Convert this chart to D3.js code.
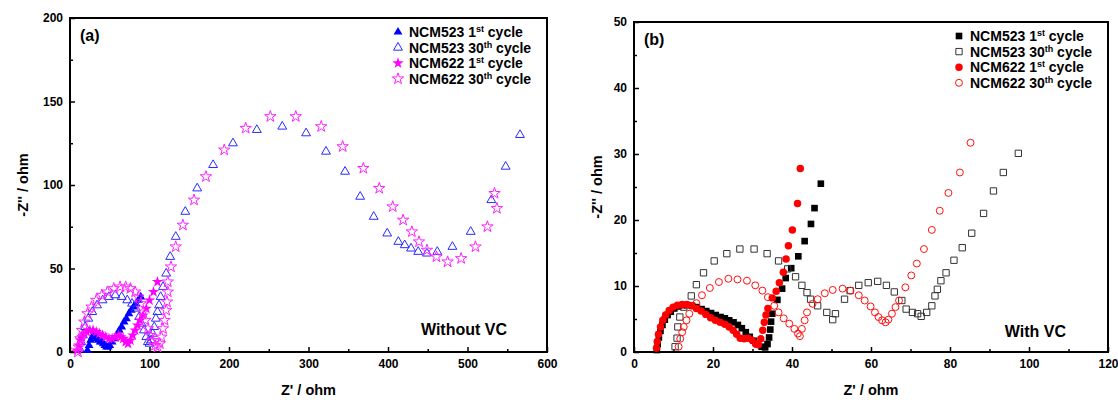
<!DOCTYPE html>
<html>
<head>
<meta charset="utf-8">
<script src="https://cdn.jsdelivr.net/npm/d3@7"></script>
<style>
  body { margin: 0; background: #fff; }
  svg { display: block; font-family: 'Liberation Sans', Arial, sans-serif; font-weight: bold; }
</style>
</head>
<body>
<script>
// ---- panel (a): without VC, Z' vs -Z'' (ohm) ----
const aXTicks = [0, 100, 200, 300, 400, 500, 600];
const aXMinor = [50, 150, 250, 350, 450, 550];
const aYTicks = [0, 50, 100, 150, 200];
const aYMinor = [25, 75, 125, 175];

const a523first = [[22,1],[24,4],[26,7],[28,9],[30,10],[32,9],[34,8],[36,7],[38,6],[40,6],[42,5],[44,4],[46,3],[48,3],[50,4],[53,6],[56,8],[59,10],[62,13],[65,15],[68,18],[71,20],[74,23],[77,25],[80,27],[83,29],[86,31],[89,33]];
const a523thirtieth = [[12,2],[14,6],[16,10],[19,15],[23,20],[28,24],[34,28],[41,31],[49,33],[57,34],[65,33],[72,31],[78,29],[83,26],[87,21],[90,17],[93,13],[96,9],[98,6],[100,5],[102,7],[104,11],[106,15],[108,20],[110,24],[112,28],[114,33],[117,39],[121,47],[126,57],[133,69],[145,84],[160,98],[180,112],[205,125],[235,133],[267,135],[297,131],[322,120],[346,108],[365,93],[382,81],[399,71],[413,66],[421,64],[429,62],[438,60],[449,59],[462,60],[481,63],[504,72],[530,91],[548,111],[566,130]];
const a622first = [[9,1],[11,4],[13,7],[15,9],[18,11],[21,12],[25,13],[29,13],[33,12],[37,11],[41,10],[45,9],[49,8],[53,8],[57,9],[61,10],[64,9],[67,8],[70,6],[73,5],[76,7],[79,10],[82,13],[85,16],[88,19],[92,22],[96,26],[100,31],[105,36],[110,42]];
const a622thirtieth = [[10,0],[11,3],[13,8],[15,13],[18,18],[22,23],[27,27],[33,31],[40,34],[47,36],[55,38],[63,39],[70,39],[76,38],[82,36],[86,33],[89,29],[92,24],[95,19],[98,14],[101,10],[104,7],[107,4],[110,3],[113,5],[115,9],[117,14],[119,19],[121,25],[122,30],[123,36],[123,42],[127,51],[133,63],[142,76],[156,91],[171,105],[194,121],[221,134],[252,141],[284,141],[316,135],[343,123],[369,110],[389,98],[406,87],[419,79],[430,72],[439,66],[449,61],[461,57],[475,54],[492,56],[510,63],[525,75],[537,86],[534,95]];

// ---- panel (b): with VC ----
const bXTicks = [0, 20, 40, 60, 80, 100, 120];
const bXMinor = [10, 30, 50, 70, 90, 110];
const bYTicks = [0, 10, 20, 30, 40, 50];
const bYMinor = [5, 15, 25, 35, 45];

const b523first = [[5.8,0.3],[6.0,1.2],[6.3,2.2],[6.7,3.2],[7.2,4.1],[7.8,4.9],[8.5,5.6],[9.3,6.1],[10.2,6.6],[11.2,6.9],[12.3,7.1],[13.5,7.1],[14.7,7.0],[15.9,6.8],[17.1,6.5],[18.3,6.2],[19.5,5.9],[20.7,5.6],[21.9,5.3],[23.0,5.1],[24.1,4.8],[25.2,4.5],[26.3,4.1],[27.3,3.6],[28.3,3.0],[29.3,2.3],[30.3,1.7],[31.3,1.2],[32.3,0.8],[33.2,0.7],[33.8,1.2],[34.2,2.2],[34.5,3.4],[34.7,4.6],[35.0,5.8],[36.3,7.9],[37.5,9.6],[38.4,11.2],[39.8,12.7],[41.6,14.5],[43.2,16.8],[44.8,19.4],[45.7,21.8],[47.3,25.5]];
const b523thirtieth = [[10.4,0.8],[10.9,2.1],[11.1,3.8],[11.6,5.3],[12.6,6.8],[14.5,8.5],[15.8,10.2],[17.6,12.0],[20.3,13.8],[23.5,14.9],[26.8,15.6],[30.4,15.6],[33.7,14.9],[36.6,13.8],[38.9,12.6],[40.9,11.4],[42.5,10.1],[43.8,9.0],[44.7,8.0],[46.5,7.0],[48.8,6.0],[50.3,4.9],[51.0,5.8],[53.3,8.0],[54.7,9.3],[56.9,10.1],[59.3,10.5],[61.7,10.7],[63.9,10.1],[65.9,9.1],[67.8,7.8],[68.9,6.5],[70.5,6.0],[71.8,5.8],[72.7,5.4],[74.1,6.0],[75.4,7.0],[76.2,8.5],[76.8,9.5],[77.7,10.8],[79.0,12.0],[81.0,13.9],[83.1,15.8],[85.5,18.0],[88.5,21.0],[91.0,24.4],[93.5,27.2],[97.3,30.1]];
const b622first = [[5.7,0.6],[5.9,1.6],[6.2,2.7],[6.7,3.8],[7.3,4.8],[8.0,5.6],[8.9,6.3],[9.9,6.8],[11.0,7.1],[12.2,7.2],[13.4,7.2],[14.6,7.0],[15.8,6.6],[17.0,6.2],[18.2,5.7],[19.4,5.2],[20.6,4.8],[21.8,4.5],[23.0,4.2],[24.1,3.8],[25.1,3.3],[26.0,2.7],[26.9,2.1],[27.9,2.0],[28.9,2.1],[29.9,1.8],[30.8,1.2],[31.5,1.1],[32.1,2.0],[32.6,3.3],[33.0,4.5],[33.4,5.6],[33.9,6.6],[35.0,8.2],[36.0,9.2],[36.8,10.5],[37.8,12.1],[38.5,14.1],[39.1,16.1],[40.1,18.5],[41.4,22.5],[42.1,27.8]];
const b622thirtieth = [[11.3,0.8],[11.7,2.0],[12.2,3.0],[12.6,3.8],[13.3,4.8],[14.0,5.8],[15.8,7.4],[17.2,8.6],[19.2,9.7],[21.5,10.6],[23.9,11.1],[26.2,11.0],[28.6,10.8],[30.7,10.1],[32.5,9.3],[33.9,8.3],[35.5,7.0],[36.6,6.0],[37.9,5.1],[39.3,4.3],[40.6,3.5],[41.5,2.8],[42.0,2.4],[42.5,3.5],[43.2,4.8],[43.8,6.0],[45.2,7.3],[46.5,8.0],[48.3,8.9],[50.3,9.4],[52.8,9.6],[54.8,9.3],[56.9,8.6],[58.4,7.8],[59.9,6.9],[61.0,6.0],[61.9,5.3],[62.8,4.8],[63.7,4.5],[64.4,4.9],[65.3,5.8],[66.2,6.8],[67.1,7.8],[68.7,9.8],[70.2,11.6],[71.6,13.4],[73.4,15.6],[75.4,18.5],[77.4,21.4],[79.6,24.1],[82.5,27.2],[85.2,31.7]];

const svg = d3.select('body').append('svg')
    .attr('width', 1118)
    .attr('height', 400);

svg.append('rect').attr('width', 1118).attr('height', 400).attr('fill', '#fff');

const shape = (type, size) => d3.symbol().type(type).size(size)();

const panels = [
    {
        left: 70, right: 547, top: 18, bottom: 352,
        xDomain: [0, 600], yDomain: [0, 200],
        xTicks: aXTicks, xMinor: aXMinor, yTicks: aYTicks, yMinor: aYMinor,
        tag: '(a)', note: 'Without VC', noteX: 507, noteY: 335,
        yTitleX: 23,
        legendX: 398,
        series: [
            { name: 'NCM523', cyc: '1', sup: 'st', data: a523first, d: shape(d3.symbolTriangle, 34), fill: '#0000ff', stroke: 'none' },
            { name: 'NCM523', cyc: '30', sup: 'th', data: a523thirtieth, d: shape(d3.symbolTriangle, 34), fill: 'none', stroke: '#2a2aff' },
            { name: 'NCM622', cyc: '1', sup: 'st', data: a622first, d: shape(d3.symbolStar, 40), fill: '#ff00ff', stroke: 'none' },
            { name: 'NCM622', cyc: '30', sup: 'th', data: a622thirtieth, d: shape(d3.symbolStar, 40), fill: 'none', stroke: '#ff22ff' },
        ],
    },
    {
        left: 634, right: 1108, top: 22, bottom: 352,
        xDomain: [0, 120], yDomain: [0, 50],
        xTicks: bXTicks, xMinor: bXMinor, yTicks: bYTicks, yMinor: bYMinor,
        tag: '(b)', note: 'With VC', noteX: 1066, noteY: 337,
        yTitleX: 597,
        legendX: 959,
        series: [
            { name: 'NCM523', cyc: '1', sup: 'st', data: b523first, d: shape(d3.symbolSquare, 44), fill: '#000', stroke: 'none' },
            { name: 'NCM523', cyc: '30', sup: 'th', data: b523thirtieth, d: shape(d3.symbolSquare, 40), fill: 'none', stroke: '#333' },
            { name: 'NCM622', cyc: '1', sup: 'st', data: b622first, d: shape(d3.symbolCircle, 44), fill: '#ff0000', stroke: 'none' },
            { name: 'NCM622', cyc: '30', sup: 'th', data: b622thirtieth, d: shape(d3.symbolCircle, 38), fill: 'none', stroke: '#ff1010' },
        ],
    },
];

panels.forEach(p => {
    const x = d3.scaleLinear().domain(p.xDomain).range([p.left, p.right]);
    const y = d3.scaleLinear().domain(p.yDomain).range([p.bottom, p.top]);
    const g = svg.append('g');

    /* inward ticks, major + minor */
    const gx = g.append('g').attr('transform', `translate(0,${p.bottom})`)
        .call(d3.axisBottom(x).tickValues(p.xTicks).tickSizeInner(-5).tickSizeOuter(0).tickPadding(7));
    g.append('g').attr('transform', `translate(0,${p.bottom})`)
        .call(d3.axisBottom(x).tickValues(p.xMinor).tickSizeInner(-3).tickSizeOuter(0).tickFormat(''));
    const gy = g.append('g').attr('transform', `translate(${p.left},0)`)
        .call(d3.axisLeft(y).tickValues(p.yTicks).tickSizeInner(-5).tickSizeOuter(0).tickPadding(7));
    g.append('g').attr('transform', `translate(${p.left},0)`)
        .call(d3.axisLeft(y).tickValues(p.yMinor).tickSizeInner(-3).tickSizeOuter(0).tickFormat(''));

    g.selectAll('.domain').remove();
    g.selectAll('.tick line').attr('stroke', '#000').attr('stroke-width', 1.5);
    g.selectAll('.tick text')
        .attr('font-size', 12)
        .attr('font-weight', 'bold')
        .attr('font-family', "'Liberation Sans', Arial, sans-serif")
        .attr('fill', '#000');

    g.append('rect')
        .attr('x', p.left).attr('y', p.top)
        .attr('width', p.right - p.left).attr('height', p.bottom - p.top)
        .attr('fill', 'none').attr('stroke', '#000').attr('stroke-width', 2);

    /* data markers */
    p.series.forEach(s => {
        g.append('g').selectAll('path')
            .data(s.data)
            .join('path')
            .attr('d', s.d)
            .attr('transform', d => `translate(${x(d[0])},${y(d[1])})`)
            .attr('fill', s.fill)
            .attr('stroke', s.stroke)
            .attr('stroke-width', 1);
    });

    /* legend */
    p.series.forEach((s, i) => {
        const ry = p.top + 14 + i * 15.6;
        g.append('path')
            .attr('d', s.d)
            .attr('transform', `translate(${p.legendX},${ry})`)
            .attr('fill', s.fill)
            .attr('stroke', s.stroke);
        const t = g.append('text')
            .attr('x', p.legendX + 11).attr('y', ry + 5)
            .attr('font-size', 14);
        t.append('tspan').text(`${s.name} ${s.cyc}`);
        t.append('tspan').attr('font-size', 9).attr('dy', -5).text(s.sup);
        t.append('tspan').attr('dy', 5).text(' cycle');
    });

    g.append('text')
        .attr('x', p.left + 10).attr('y', p.top + 23)
        .attr('font-size', 16).text(p.tag);

    g.append('text')
        .attr('x', p.noteX).attr('y', p.noteY)
        .attr('text-anchor', 'end')
        .attr('font-size', 16).text(p.note);

    g.append('text')
        .attr('x', (p.left + p.right) / 2).attr('y', 395)
        .attr('text-anchor', 'middle')
        .attr('font-size', 14.5).text("Z' / ohm");

    g.append('text')
        .attr('transform', `translate(${p.yTitleX},${(p.top + p.bottom) / 2}) rotate(-90)`)
        .attr('text-anchor', 'middle')
        .attr('dy', '0.35em')
        .attr('font-size', 14.5).text("-Z'' / ohm");
});
</script>
</body>
</html>
